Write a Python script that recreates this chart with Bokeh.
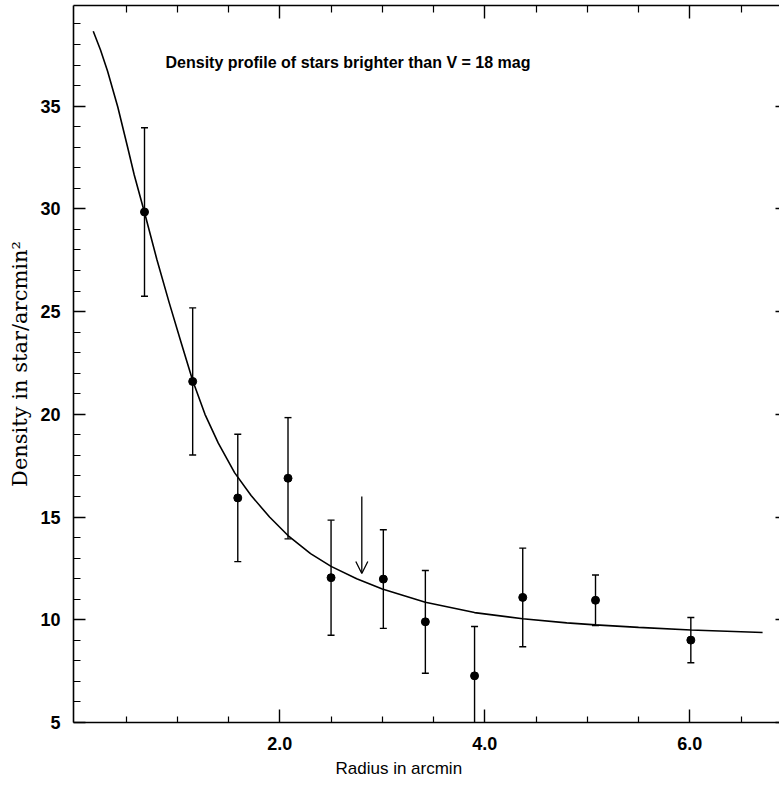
from bokeh.plotting import figure
from bokeh.models import (Range1d, LinearAxis, FixedTicker, Whisker, ColumnDataSource,
                          Label, Arrow, OpenHead, TeeHead, Title)
from bokeh.embed import file_html
from bokeh.resources import INLINE

# ---- data ----
radius = [0.68, 1.15, 1.59, 2.08, 2.50, 3.01, 3.42, 3.90, 4.37, 5.08, 6.01]
density = [29.85, 21.60, 15.93, 16.89, 12.05, 11.98, 9.90, 7.27, 11.09, 10.95, 9.01]
error = [4.10, 3.58, 3.10, 2.95, 2.80, 2.40, 2.50, 2.40, 2.40, 1.23, 1.10]

fit_radius = [0.18, 0.25, 0.32, 0.42, 0.52, 0.58, 0.684, 0.80, 0.92, 1.04, 1.15, 1.27,
              1.40, 1.56, 1.72, 1.90, 2.08, 2.30, 2.50, 2.75, 3.00, 3.42, 3.90, 4.37,
              4.80, 5.08, 5.50, 6.01, 6.71]
fit_density = [38.65, 37.75, 36.70, 34.95, 32.90, 31.65, 29.75, 27.55, 25.45, 23.45, 21.65, 20.00,
               18.60, 17.15, 16.05, 15.00, 14.10, 13.22, 12.60, 12.00, 11.50, 10.85, 10.35, 10.05,
               9.85, 9.75, 9.63, 9.50, 9.38]

x_major = [2.0, 4.0, 6.0]
x_minor = [0.5, 1.0, 1.5, 2.5, 3.0, 3.5, 4.5, 5.0, 5.5, 6.5]
x_labels = {2.0: "2.0", 4.0: "4.0", 6.0: "6.0"}
y_major = [5, 10, 15, 20, 25, 30, 35]
y_minor = [v for v in range(5, 40) if v % 5 != 0]

title_text = "Density profile of stars brighter than V = 18 mag"
title_pos = (0.885, 37.13)
core_radius = 2.8
arrow_from, arrow_to = 16.0, 12.25

# ---- figure ----
p = figure(width=779, height=786, output_backend="svg", toolbar_location=None,
           x_range=Range1d(-0.0127, 6.875), y_range=Range1d(5, 39.9),
           x_axis_location=None, y_axis_location=None,
           min_border_left=73, min_border_right=0, min_border_top=5, min_border_bottom=64)
p.outline_line_color = None
p.grid.visible = False
p.background_fill_color = "white"
p.border_fill_color = "white"

def style(ax, major_in, minor_in):
    ax.axis_line_color = "black"
    ax.axis_line_width = 1.6
    ax.major_tick_line_color = "black"
    ax.minor_tick_line_color = "black"
    ax.major_tick_line_width = 1.4
    ax.minor_tick_line_width = 1.2
    ax.major_tick_in = major_in
    ax.major_tick_out = 0
    ax.minor_tick_in = minor_in
    ax.minor_tick_out = 0

def hide_labels(ax):
    ax.major_label_text_font_size = "0px"
    ax.major_label_text_color = None
    ax.major_label_standoff = 0

left = LinearAxis(ticker=FixedTicker(ticks=y_major, minor_ticks=y_minor))
style(left, 12, 7)
left.major_label_text_font = "Liberation Sans"
left.major_label_text_font_style = "bold"
left.major_label_text_font_size = "18px"
left.major_label_text_color = "black"
left.major_label_standoff = 13
left.axis_label = "Density in star/arcmin\u00b2"
left.axis_label_text_font = "DejaVu Serif"
left.axis_label_text_font_style = "normal"
left.axis_label_text_font_size = "21px"
left.axis_label_text_color = "black"
left.axis_label_standoff = 5
p.add_layout(left, "left")

bottom = LinearAxis(ticker=FixedTicker(ticks=x_major, minor_ticks=x_minor),
                    major_label_overrides=x_labels)
style(bottom, 13, 6)
bottom.major_label_text_font = "Liberation Sans"
bottom.major_label_text_font_style = "bold"
bottom.major_label_text_font_size = "18px"
bottom.major_label_text_color = "black"
bottom.major_label_standoff = 14
p.add_layout(bottom, "below")

top = LinearAxis(ticker=FixedTicker(ticks=x_major, minor_ticks=x_minor))
style(top, 13, 7)
hide_labels(top)
p.add_layout(top, "above")

right = LinearAxis(ticker=FixedTicker(ticks=y_major, minor_ticks=[]))
style(right, 4, 0)
right.axis_line_color = None
hide_labels(right)
p.add_layout(right, "right")

xlab = Title(text="Radius in arcmin", align="left", offset=262,
             text_font="Liberation Sans", text_font_style="normal",
             text_font_size="17px", text_color="black", standoff=8)
p.add_layout(xlab, "below")

# fitted profile
p.line(fit_radius, fit_density, line_color="black", line_width=1.6)

# error bars
src = ColumnDataSource(dict(
    r=radius, d=density,
    upper=[d + e for d, e in zip(density, error)],
    lower=[d - e for d, e in zip(density, error)]))
p.add_layout(Whisker(source=src, base="r", upper="upper", lower="lower", dimension="height",
                     line_color="black", line_width=1.4,
                     upper_head=TeeHead(size=7, line_width=1.4, line_color="black"),
                     lower_head=TeeHead(size=7, line_width=1.4, line_color="black")))
p.scatter("r", "d", source=src, size=8, color="black")

# core radius arrow
p.add_layout(Arrow(x_start=core_radius, y_start=arrow_from, x_end=core_radius, y_end=arrow_to,
                   line_color="black", line_width=1.3,
                   end=OpenHead(size=12, line_width=1.3, line_color="black")))

p.add_layout(Label(x=title_pos[0], y=title_pos[1], text=title_text,
                   text_font="Liberation Sans", text_font_style="bold",
                   text_font_size="16px", text_baseline="middle", text_color="black"))

open("out.html", "w").write(file_html(p, INLINE))
